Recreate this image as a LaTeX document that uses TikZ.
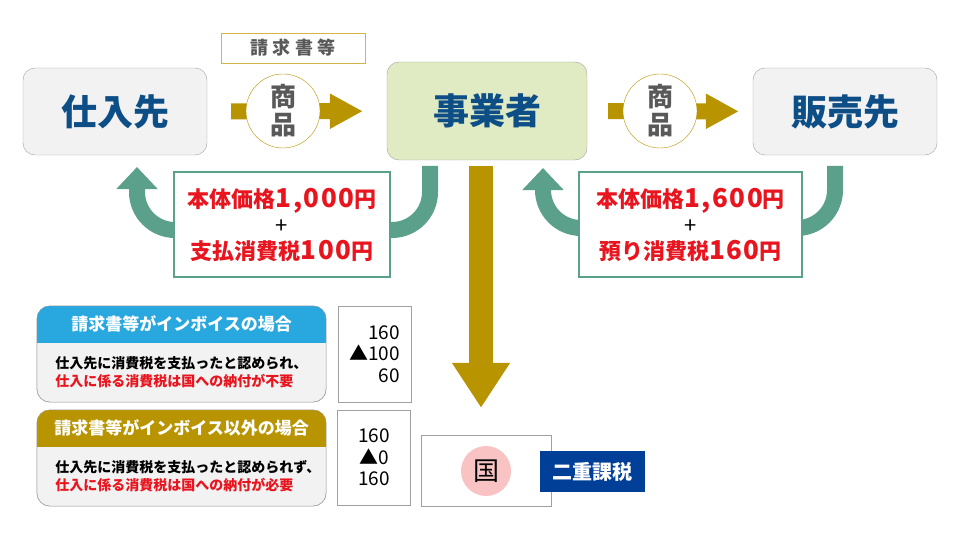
\documentclass[tikz,border=0pt]{standalone}
\usepackage{fontspec}
\setmainfont{Noto Sans CJK JP}
\usetikzlibrary{arrows.meta}

\definecolor{partyblue}{RGB}{13,78,134}
\definecolor{cellgray}{RGB}{242,242,242}
\definecolor{boxgray}{RGB}{160,160,160}
\definecolor{textgray}{RGB}{89,89,89}
\definecolor{bizgreen}{RGB}{224,235,196}
\definecolor{gold}{RGB}{184,148,0}
\definecolor{labelgold}{RGB}{212,180,74}
\definecolor{payteal}{RGB}{90,160,138}
\definecolor{pricered}{RGB}{232,20,30}
\definecolor{headblue}{RGB}{41,168,224}
\definecolor{kunipink}{RGB}{249,195,195}
\definecolor{taxblue}{RGB}{0,63,152}

\tikzset{
    party/.style={draw=boxgray, fill=cellgray, rounded corners=12pt, minimum width=184pt, minimum height=87pt, text=partyblue, font=\fontsize{36}{40}\selectfont\bfseries},
    goods flow/.style={-{Triangle[length=33pt, width=33pt]}, line width=16pt, gold},
    goods/.style={circle, draw=gold, fill=white, minimum size=74pt, inner sep=0pt, align=center, text=textgray, font=\fontsize{26}{28}\selectfont\bfseries},
    payment/.style={-{Triangle[length=22pt, width=40pt]}, line width=16pt, payteal, rounded corners=38pt},
    price/.style={draw=payteal, line width=1.5pt, fill=white, minimum height=105pt, align=center, text=pricered, font=\fontsize{22}{26}\selectfont\bfseries},
    tax flow/.style={-{Triangle[length=45pt, width=55pt]}, line width=24pt, gold},
    case panel/.style={draw=boxgray, fill=cellgray, rounded corners=13pt, minimum width=289pt, minimum height=96pt},
    case head/.style={text=white, font=\fontsize{17}{20}\selectfont\bfseries},
    case body/.style={anchor=west, align=left, font=\fontsize{14}{18}\selectfont\bfseries},
    numbox/.style={draw=boxgray, fill=white, minimum width=73pt, minimum height=96pt},
    numtext/.style={font=\fontsize{19}{21.5}\selectfont},
}
\newcommand{\amount}[1]{{\fontsize{26}{26}\selectfont\addfontfeature{LetterSpace=6}#1}}
\newcommand{\casepanel}[6]{% name, centre, header colour, header, black line, red line
    \node[case panel] (#1) at #2 {};
    \begin{scope}
        \clip[rounded corners=13pt] (#1.north west) rectangle (#1.south east);
        \fill[#3] (#1.north west) rectangle ([yshift=-37pt]#1.north east);
    \end{scope}
    \draw[boxgray, rounded corners=13pt] (#1.north west) rectangle (#1.south east);
    \node[case head] (#1 head) at ([yshift=-18.5pt]#1.north) {#4};
    \node[case body] (#1 body) at ([xshift=15pt, yshift=-18.5pt]#1.west) {#5\\\textcolor{pricered}{#6}};
}

\begin{document}
\begin{tikzpicture}[x=1pt, y=-1pt]
    \useasboundingbox (0,0) rectangle (960,540);

    % Parties of the trade
    \node[party] (shiire) at (115,111.5) {仕入先};
    \node[party, fill=bizgreen, minimum width=200pt, minimum height=98pt] (jigyo) at (487,111) {事業者};
    \node[party] (hanbai) at (845,111.5) {販売先};
    \node[draw=labelgold, fill=white, minimum width=144pt, minimum height=30pt, text=textgray,
          font=\fontsize{18}{20}\selectfont\bfseries\addfontfeature{LetterSpace=24}] (seikyu) at (293,48) {請求書等};

    % Flow of goods
    \draw[goods flow, shorten <=24pt, shorten >=24pt] (shiire) -- (jigyo);
    \draw[goods flow, shorten <=21pt, shorten >=14pt] (jigyo) -- (hanbai);
    \node[goods] (goods1) at (283,111) {商\\品};
    \node[goods] (goods2) at (660,111) {商\\品};

    % Payments going back, behind the price boxes
    \coordinate (pay1 start) at (430,166);
    \coordinate (pay1 end) at (137,167);
    \coordinate (pay2 start) at (835,166);
    \coordinate (pay2 end) at (543,168);
    \draw[payment] (pay1 start) -- ++(0,64) -| (pay1 end);
    \draw[payment] (pay2 start) -- ++(0,62) -| (pay2 end);
    \node[price, minimum width=216pt] (price1) at (282,224.5)
        {本体価格\amount{1,000}円\\\textcolor{black}{\mdseries +}\\支払消費税\amount{100}円};
    \node[price, minimum width=223pt] (price2) at (690.5,224.5)
        {本体価格\amount{1,600}円\\\textcolor{black}{\mdseries +}\\預り消費税\amount{160}円};

    % Tax to the state
    \node[draw=boxgray, fill=white, minimum width=130pt, minimum height=71pt] (kuni) at (486,470.5) {};
    \node[circle, fill=kunipink, minimum size=50pt, inner sep=0pt, font=\fontsize{26}{28}\selectfont] (kunimark) at (486,471) {国};
    \node[fill=taxblue, text=white, minimum width=105pt, minimum height=41pt, font=\fontsize{20}{22}\selectfont\bfseries] (nijuu) at (592.5,471.5) {二重課税};
    \draw[tax flow] ([xshift=-6pt, yshift=-6pt]jigyo.south) -- ([xshift=-5pt, yshift=27pt]kuni.north);

    % The two cases
    \casepanel{invoice}{(181.5,354)}{headblue}{請求書等がインボイスの場合}
        {仕入先に消費税を支払ったと認められ、}{仕入に係る消費税は国への納付が不要}
    \casepanel{noinvoice}{(181.5,458)}{gold}{請求書等がインボイス以外の場合}
        {仕入先に消費税を支払ったと認められず、}{仕入に係る消費税は国への納付が必要}
    \node[numbox] (num1) at (374.5,354) {};
    \node[numtext, anchor=east, align=right] (num1 text) at ([xshift=-8pt]num1.east) {160\\▲100\\60};
    \node[numbox, minimum height=95pt] (num2) at (374,457.5) {};
    \node[numtext, align=center] (num2 text) at (num2) {160\\▲0\\160};

\end{tikzpicture}
\end{document}
